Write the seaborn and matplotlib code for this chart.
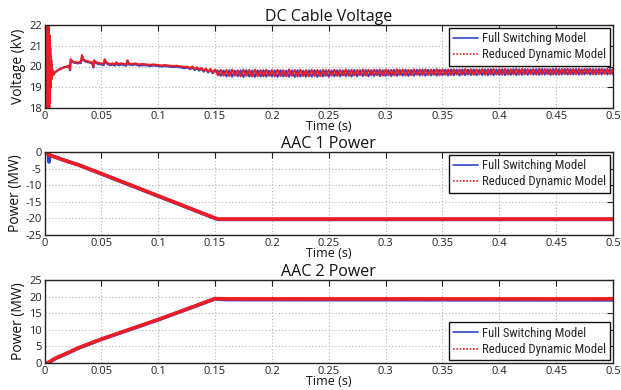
import numpy as np
import pandas as pd
import matplotlib
matplotlib.use("Agg")
import matplotlib.pyplot as plt
from matplotlib import font_manager
from matplotlib.font_manager import FontProperties
from matplotlib.lines import Line2D
import seaborn as sns

# ---------------- data ----------------
# DC cable voltage: start-up transient (explicit sample times)
v_t_start = [0, .0003, .0006, .0009, .0012, .0015, .0018, .0021, .0024, .0027, .003,
             .0033, .0036, .0039, .0042, .0045, .0048, .0051, .0055, .006, .0065,
             .007, .008, .009, .010, .012, .014, .016, .018]
v_red_start = [20, 23, 17, 23, 17, 23, 17, 23, 17, 23, 17, 23, 17, 22.8, 17.5,
               21.5, 18.3, 20.9, 19.0, 20.3, 19.4, 19.85, 19.6, 19.7, 19.75,
               19.82, 19.88, 19.93, 19.97]
v_blue_start = [20, 22.6, 17.4, 22.7, 17.3, 22.6, 17.5, 22.5, 17.6, 22.4, 17.7,
                22.2, 17.9, 21.9, 18.2, 21.3, 18.6, 20.6, 19.2, 20.1, 19.5,
                19.8, 19.62, 19.72, 19.76, 19.83, 19.89, 19.94, 19.98]

# DC cable voltage: settling (explicit sample times)
v_t_mid = [0.020, 0.0215, 0.022, 0.0225, 0.023, 0.024, 0.026, 0.028, 0.030, 0.031,
           0.032, 0.033, 0.034, 0.036, 0.038, 0.040, 0.042, 0.043, 0.0435, 0.045,
           0.047, 0.050, 0.052, 0.053, 0.054, 0.056, 0.058, 0.060, 0.062, 0.063,
           0.065, 0.068, 0.070, 0.072, 0.073, 0.074, 0.077, 0.080, 0.083, 0.086,
           0.090, 0.093, 0.096, 0.100, 0.103, 0.106, 0.110, 0.113, 0.116, 0.120,
           0.123, 0.126, 0.128, 0.130, 0.132, 0.134, 0.136, 0.138, 0.140, 0.142,
           0.144, 0.146, 0.148, 0.150]
v_red_mid = [20.00, 20.05, 19.95, 19.85, 20.35, 20.28, 20.22, 20.20, 20.18, 20.22,
             20.20, 20.55, 20.35, 20.28, 20.25, 20.22, 20.20, 20.00, 20.30, 20.22,
             20.18, 20.15, 20.12, 20.35, 20.22, 20.15, 20.12, 20.15, 20.10, 20.20,
             20.13, 20.15, 20.12, 20.10, 20.30, 20.15, 20.12, 20.15, 20.10, 20.12,
             20.10, 20.08, 20.10, 20.07, 20.05, 20.07, 20.04, 20.02, 20.04, 20.00,
             19.97, 19.99, 19.92, 20.00, 19.88, 19.96, 19.85, 19.93, 19.80, 19.90,
             19.76, 19.88, 19.72, 19.85]
v_blue_mid = [19.98, 20.03, 19.92, 19.82, 20.30, 20.25, 20.18, 20.16, 20.15, 20.19,
              20.16, 20.48, 20.30, 20.24, 20.21, 20.18, 20.15, 19.95, 20.25, 20.18,
              20.12, 20.10, 20.06, 20.30, 20.17, 20.10, 20.06, 20.10, 20.04, 20.15,
              20.06, 20.10, 20.06, 20.04, 20.25, 20.10, 20.06, 20.10, 20.04, 20.06,
              20.05, 20.02, 20.05, 20.02, 20.00, 20.02, 19.99, 19.97, 19.99, 19.95,
              19.92, 19.95, 19.87, 19.95, 19.83, 19.92, 19.80, 19.89, 19.75, 19.86,
              19.71, 19.84, 19.67, 19.81]

# DC cable voltage: steady state, one sample every 2.5 ms from 0.1525 s
v_step_end = 0.0025
v_red_end = [
    19.58, 19.84, 19.56, 19.83, 19.54, 19.85, 19.56, 19.82, 19.53, 19.84,
    19.55, 19.83, 19.52, 19.85, 19.54, 19.82, 19.53, 19.84, 19.55, 19.83,
    19.52, 19.84, 19.54, 19.82, 19.53, 19.85, 19.55, 19.83, 19.52, 19.84,
    19.54, 19.82, 19.53, 19.84, 19.54, 19.83, 19.53, 19.84, 19.55, 19.83,
    19.56, 19.84, 19.55, 19.83, 19.57, 19.85, 19.55, 19.84, 19.56, 19.83,
    19.58, 19.85, 19.56, 19.84, 19.57, 19.85, 19.58, 19.84, 19.56, 19.85,
    19.58, 19.84, 19.57, 19.86, 19.59, 19.85, 19.57, 19.84, 19.58, 19.86,
    19.60, 19.85, 19.58, 19.86, 19.59, 19.85, 19.60, 19.87, 19.58, 19.86,
    19.60, 19.86, 19.59, 19.87, 19.61, 19.86, 19.60, 19.88, 19.61, 19.87,
    19.60, 19.86, 19.62, 19.88, 19.60, 19.87, 19.61, 19.88, 19.62, 19.87,
    19.60, 19.88, 19.61, 19.87, 19.62, 19.89, 19.61, 19.88, 19.62, 19.87,
    19.63, 19.88, 19.61, 19.89, 19.62, 19.88, 19.63, 19.87, 19.62, 19.89,
    19.61, 19.88, 19.63, 19.89, 19.62, 19.88, 19.63, 19.89, 19.62, 19.88,
    19.64, 19.89, 19.62, 19.88, 19.63, 19.89, 19.64, 19.88, 19.63, 19.89]
v_blue_end = [
    19.80, 19.55, 19.81, 19.52, 19.82, 19.51, 19.80, 19.53, 19.81, 19.50,
    19.82, 19.52, 19.80, 19.50, 19.81, 19.52, 19.82, 19.51, 19.80, 19.52,
    19.81, 19.50, 19.82, 19.52, 19.80, 19.51, 19.81, 19.50, 19.82, 19.52,
    19.80, 19.51, 19.81, 19.52, 19.82, 19.50, 19.81, 19.52, 19.82, 19.51,
    19.81, 19.53, 19.82, 19.52, 19.81, 19.54, 19.82, 19.52, 19.83, 19.53,
    19.82, 19.54, 19.83, 19.53, 19.82, 19.55, 19.83, 19.54, 19.82, 19.55,
    19.83, 19.54, 19.84, 19.55, 19.83, 19.56, 19.84, 19.55, 19.83, 19.56,
    19.84, 19.57, 19.85, 19.56, 19.84, 19.57, 19.85, 19.56, 19.84, 19.58,
    19.85, 19.57, 19.86, 19.58, 19.85, 19.57, 19.86, 19.58, 19.85, 19.59,
    19.86, 19.58, 19.85, 19.59, 19.86, 19.58, 19.87, 19.59, 19.86, 19.60,
    19.87, 19.59, 19.86, 19.60, 19.87, 19.59, 19.86, 19.60, 19.87, 19.60,
    19.86, 19.61, 19.87, 19.60, 19.88, 19.61, 19.87, 19.60, 19.88, 19.61,
    19.87, 19.62, 19.88, 19.61, 19.87, 19.62, 19.88, 19.61, 19.87, 19.62,
    19.88, 19.61, 19.87, 19.62, 19.88, 19.62, 19.87, 19.62, 19.88, 19.62]

# AAC 1 power (MW)
p1_t = [0, 0.002, 0.0035, 0.004, 0.0045, 0.005, 0.01, 0.02, 0.03, 0.05, 0.10, 0.15, 0.153, 0.5]
p1_blue = [0, -0.3, -0.6, -3.0, -0.9, -1.0, -1.6, -2.8, -3.9, -6.6, -13.3, -20.0, -20.3, -20.3]
p1_red = [0, -0.3, -0.6, -0.8, -0.9, -1.0, -1.6, -2.8, -3.9, -6.5, -13.2, -19.9, -20.2, -20.2]

# AAC 2 power (MW)
p2_t = [0, 0.003, 0.01, 0.02, 0.03, 0.05, 0.10, 0.15, 0.16, 0.5]
p2_blue = [0, 0.0, 1.4, 2.9, 4.5, 7.1, 13.0, 19.3, 19.1, 19.0]
p2_red = [0, 0.1, 1.5, 3.0, 4.6, 7.2, 13.1, 19.4, 19.3, 19.3]

x_ticks = [0, 0.05, 0.1, 0.15, 0.2, 0.25, 0.3, 0.35, 0.4, 0.45, 0.5]
x_tick_labels = ["0", "0.05", "0.1", "0.15", "0.2", "0.25", "0.3", "0.35", "0.4", "0.45", "0.5"]
series_names = ["Full Switching Model", "Reduced Dynamic Model"]

# ---------------- styling ----------------
sns.set_theme(style="white")
available = {f.name for f in font_manager.fontManager.ttflist}
base_font = "Open Sans" if "Open Sans" in available else "DejaVu Sans"
plt.rcParams["font.family"] = [base_font, "DejaVu Sans"]


def condensed_font(size):
    """Pick an installed narrow/condensed face for the legend text."""
    cands = []
    for f in font_manager.fontManager.ttflist:
        name = f.name.lower()
        stretch = str(f.stretch).lower()
        if f.style != "normal" or f.weight not in (400, "normal", "regular"):
            continue
        if "narrow" in name or "condensed" in name or "condensed" in stretch \
                or "narrow" in f.fname.lower() or "condensed" in f.fname.lower():
            if "bold" in f.fname.lower() or "italic" in f.fname.lower() \
                    or "oblique" in f.fname.lower() or "light" in f.fname.lower():
                continue
            cands.append(f)
    pref = ["liberation sans narrow", "roboto condensed", "open sans condensed",
            "dejavu sans"]
    cands.sort(key=lambda f: next((i for i, p in enumerate(pref) if p in f.name.lower()), 99))
    if cands:
        return FontProperties(fname=cands[0].fname, size=size)
    return FontProperties(family=base_font, size=size - 2)


legend_prop = condensed_font(9.2)

BLUE = "#3047c8"
RED = "#ee1c25"

fig = plt.figure(figsize=(6.21, 3.90), dpi=100)
fig.patch.set_facecolor("white")

left, width, height = 44.5 / 621, 568.5 / 621, 83 / 390
bottoms = [(390 - 108) / 390, (390 - 235) / 390, (390 - 363) / 390]
axes = [fig.add_axes([left, b, width, height]) for b in bottoms]

v_t_end = list(np.round(0.1525 + v_step_end * np.arange(len(v_red_end)), 5))
volt = pd.DataFrame({
    "t": v_t_start + v_t_mid + v_t_end,
    "full": v_blue_start + v_blue_mid + v_blue_end,
    "reduced": v_red_start + v_red_mid + v_red_end,
})
pow1 = pd.DataFrame({"t": p1_t, "full": p1_blue, "reduced": p1_red})
pow2 = pd.DataFrame({"t": p2_t, "full": p2_blue, "reduced": p2_red})

panels = [
    (axes[0], volt, "DC Cable Voltage", "Voltage (kV)", (18, 22), [18, 19, 20, 21, 22], "upper right", 1.5),
    (axes[1], pow1, "AAC 1 Power", "Power (MW)", (-25, 0), [-25, -20, -15, -10, -5, 0], "upper right", 2.6),
    (axes[2], pow2, "AAC 2 Power", "Power (MW)", (0, 25), [0, 5, 10, 15, 20, 25], "lower right", 2.6),
]

for ax, df, title, ylabel, ylim, yticks, loc, lw in panels:
    sns.lineplot(data=df, x="t", y="full", ax=ax, color=BLUE, lw=lw,
                 estimator=None, sort=False, legend=False)
    sns.lineplot(data=df, x="t", y="reduced", ax=ax, color=RED, lw=lw,
                 estimator=None, sort=False, legend=False)
    ax.set_xlim(0, 0.5)
    ax.set_ylim(*ylim)
    ax.set_xticks(x_ticks)
    ax.set_xticklabels(x_tick_labels)
    ax.set_yticks(yticks)
    ax.set_yticklabels([str(v) for v in yticks])
    ax.grid(True, color="#b5b5b5", linestyle=(0, (1, 2)), lw=0.8)
    ax.tick_params(direction="in", length=4, width=0.8, top=True, right=True,
                   labelsize=8, pad=2, colors="#222222")
    for s in ax.spines.values():
        s.set_color("#222222")
        s.set_linewidth(1.0)
    ax.set_title(title, fontsize=11.5, pad=3, color="#111111")
    ax.set_xlabel("Time (s)", fontsize=9, labelpad=-1, color="#111111")
    ax.set_ylabel(ylabel, fontsize=10, labelpad=2, color="#111111")
    handles = [Line2D([], [], color=BLUE, lw=1.2),
               Line2D([], [], color=RED, lw=1.2, linestyle=(0, (1, 1)))]
    leg = ax.legend(handles, series_names, loc=loc, fancybox=False, framealpha=1,
                    edgecolor="#111111", handlelength=1.9, handletextpad=0.35,
                    borderpad=0.35, labelspacing=0.25, borderaxespad=0.2,
                    prop=legend_prop)
    leg.get_frame().set_linewidth(1.0)

fig.savefig("out.png", dpi=100, facecolor="white")
